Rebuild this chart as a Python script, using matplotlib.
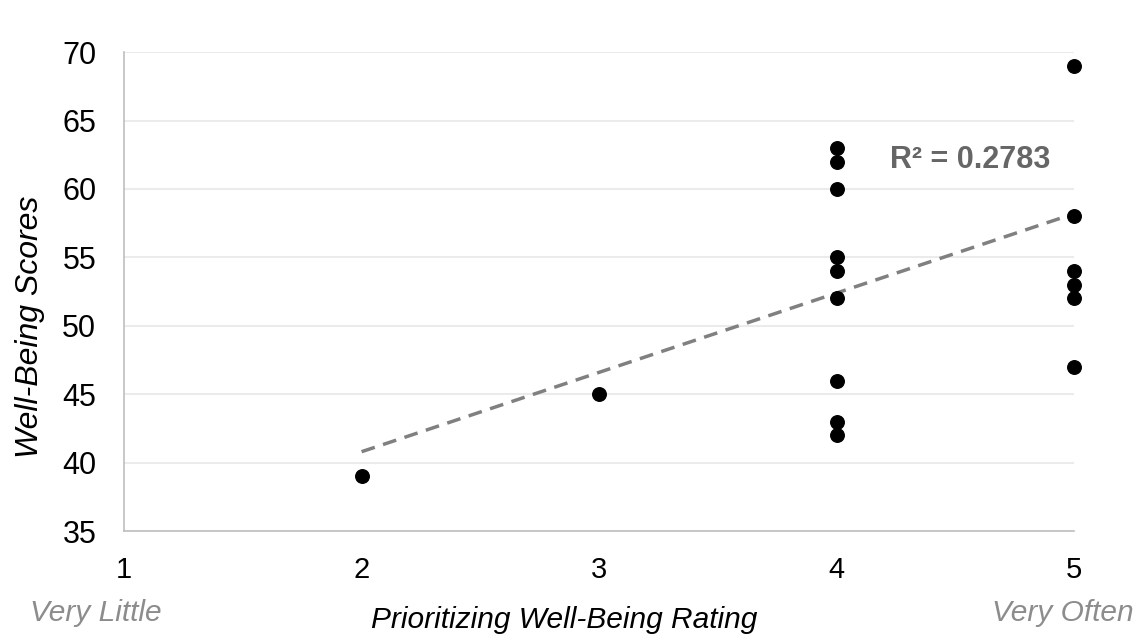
import matplotlib.pyplot as plt

plt.rcParams['font.family'] = ['Liberation Sans', 'DejaVu Sans']

# Ratings (x) and well-being scores (y)
rating = [2, 3,
          4, 4, 4, 4, 4, 4, 4, 4, 4,
          5, 5, 5, 5, 5, 5]
score = [39, 45,
         63, 62, 60, 55, 54, 52, 46, 43, 42,
         69, 58, 54, 53, 52, 47]
# Trendline ends as drawn in the chart (some points may overlap)
trend_x = [2, 5]
trend_y = [40.8, 58.2]
r2_text = "R² = 0.2783"
x_ticks = [1, 2, 3, 4, 5]
y_ticks = [35, 40, 45, 50, 55, 60, 65, 70]

fig = plt.figure(figsize=(11.38, 6.36), dpi=100)
ax = fig.add_axes([0.109, 0.165, 0.835, 0.753])

ax.plot(trend_x, trend_y, color='#808080', lw=2.5, dashes=(4, 2.5), zorder=2)
ax.scatter(rating, score, s=95, color='black', zorder=3, clip_on=False)

ax.set_xlim(1, 5)
ax.set_ylim(35, 70)
ax.set_xticks(x_ticks)
ax.set_yticks(y_ticks)
ax.tick_params(axis='x', length=0, labelsize=21, pad=18)
ax.tick_params(axis='y', length=0, labelsize=22, pad=20)
ax.grid(axis='y', color='#ebebeb', lw=1.5)
ax.set_axisbelow(True)
for side in ['top', 'right']:
    ax.spines[side].set_visible(False)
for side in ['left', 'bottom']:
    ax.spines[side].set_color('#bfbfbf')
    ax.spines[side].set_linewidth(1.2)

ax.text(4.225, 62.1, r2_text, fontsize=22, fontweight='bold', color='#666666',
        va='center')

ax.set_ylabel("Well-Being Scores", fontsize=23, style='italic')
ax.yaxis.set_label_coords(-0.083, 0.426)
fig.text(0.496, 0.025, "Prioritizing Well-Being Rating", fontsize=21.5,
         style='italic', ha='center', va='center')
fig.text(0.026, 0.036, "Very Little", fontsize=21.5, style='italic',
         color='#8c8c8c', va='center')
fig.text(0.996, 0.036, "Very Often", fontsize=21.5, style='italic',
         color='#8c8c8c', va='center', ha='right')

fig.savefig("out.png", dpi=100)
